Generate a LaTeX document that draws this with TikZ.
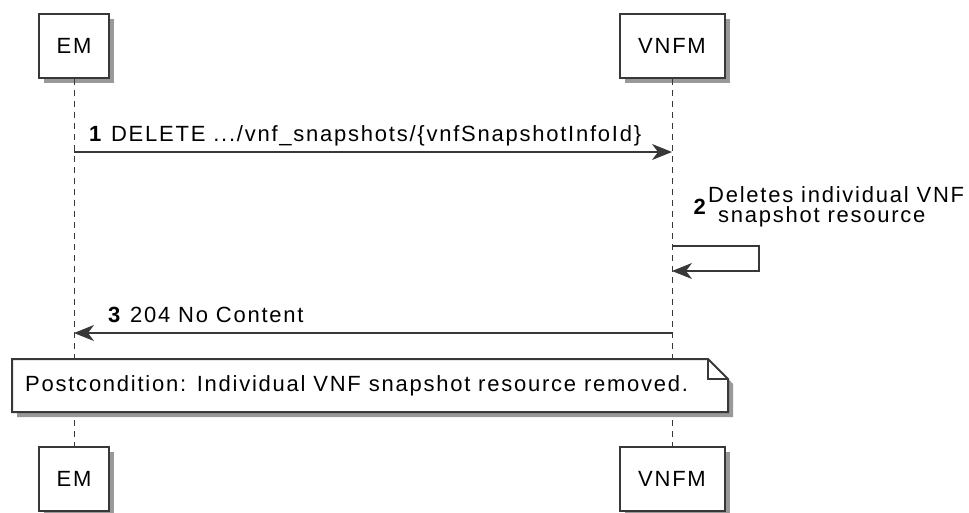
\documentclass[tikz,border=0pt]{standalone}
\usepackage{fontspec}
\setmainfont{Liberation Sans}[LetterSpace=8]
\usetikzlibrary{arrows.meta}
\usetikzlibrary{shadows}
\usetikzlibrary{positioning}

\definecolor{linegray}{HTML}{383838}

\begin{document}
\begin{tikzpicture}[x=1pt,y=-1pt,>={Stealth[length=20pt,width=16pt,inset=6pt]},
  font=\fontsize{22}{20}\selectfont,
  party/.style={draw=linegray,line width=2pt,fill=white,minimum height=64pt,
    drop shadow={shadow xshift=5pt,shadow yshift=-5pt,fill=black!40,opacity=1}},
  life/.style={draw=linegray,line width=1pt,dash pattern=on 6pt off 5pt},
  msg/.style={->,draw=linegray,line width=1.2pt},
  num/.style={font=\fontsize{22}{20}\selectfont\bfseries},
  note/.style={draw=linegray,line width=2pt,fill=white,
    drop shadow={shadow xshift=5pt,shadow yshift=-5pt,fill=black!40,opacity=1}}]

  \useasboundingbox (0,0) rectangle (969,512);

  % participants
  \node[party,minimum width=70pt] (em) at (74,46) {EM};
  \node[party,minimum width=105pt] (vnfm) at (672,46) {VNFM};
  \node[party,minimum width=70pt] (em2) at (74,478.5) {EM};
  \node[party,minimum width=105pt] (vnfm2) at (672,478.5) {VNFM};

  % lifelines
  \draw[life] (em) -- (em2);
  \draw[life] (vnfm) -- (vnfm2);

  % 1
  \coordinate (em1) at (74,152);
  \coordinate (vnfm1) at (672,152);
  \draw[msg] (em1) -- (vnfm1);
  \node[anchor=base west,inner sep=0pt] (t1) at (89,141)
    {\textbf{1} DELETE .../vnf\_snapshots/\{vnfSnapshotInfoId\}};

  % 2
  \coordinate (s2a) at (672,246);
  \coordinate (s2b) at (672,271);
  \draw[msg] (s2a) -- ++(87,0) |- (s2b);
  \node[num,anchor=east,inner sep=0pt] (n2) at (706,207) {2};
  \node[right=2pt of n2,align=left,inner sep=0pt] (t2)
    {Deletes individual VNF\\\hspace*{0.45em}snapshot resource};

  % 3
  \coordinate (vnfm3) at (672,333);
  \coordinate (em3) at (74,333);
  \draw[msg] (vnfm3) -- (em3);
  \node[anchor=base west,inner sep=0pt] (t3) at (108,322) {\textbf{3} 204 No Content};

  % postcondition
  \path[note] (12,359) -- (708,359) -- (728,379) -- (728,412) -- (12,412) -- cycle;
  \draw[linegray,line width=2pt] (708,359) -- (708,379) -- (728,379);
  \node[anchor=west,inner sep=0pt] (post) at (25,386)
    {Postcondition: Individual VNF snapshot resource removed.};
\end{tikzpicture}
\end{document}
